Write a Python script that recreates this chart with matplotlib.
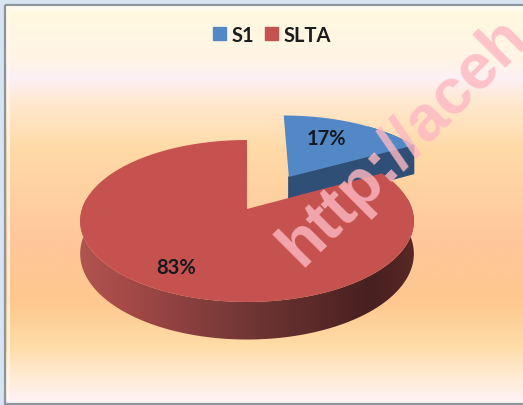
import numpy as np
import matplotlib
matplotlib.use("Agg")
import matplotlib.pyplot as plt
from matplotlib.colors import LinearSegmentedColormap
from matplotlib.patches import Patch, Polygon, Rectangle

# data
kategori = ["S1", "SLTA"]
nilai = [17, 83]
label_persen = ["17%", "83%"]
warna = ["#5288c6", "#c5524f"]

W, H = 523, 406
CX, CY = 247, 210      # pie centre on screen
RX, RY = 165, 79.2     # radii
K = 0.148              # perspective strength
DEPTH = 32             # extrusion
EXPLODE = 0.5          # how far S1 is pulled out


def proyeksi(u, v):
    # plane coords to screen pixels, v points to the viewer
    s = 1 / (1 - K * v)
    return CX + RX * u * s, CY + RY * v * s, s


def irisan(a0, a1, offset=(0, 0), n=200):
    # wedge outline, angles clockwise from the top in degrees
    t = np.radians(np.linspace(a0, a1, n))
    u = np.concatenate(([0], np.sin(t))) + offset[0]
    v = np.concatenate(([0], -np.cos(t))) + offset[1]
    return proyeksi(u, v)


def dinding(a0, a1, offset=(0, 0), n=300):
    # outline of the extruded outer wall
    t = np.radians(np.linspace(a0, a1, n))
    x, y, s = proyeksi(np.sin(t) + offset[0], -np.cos(t) + offset[1])
    xs = np.concatenate((x, x[::-1]))
    ys = np.concatenate((y, (y + DEPTH * s)[::-1]))
    return np.column_stack((xs, ys))


fig = plt.figure(figsize=(W / 100, H / 100), dpi=100, facecolor="#d7e4f2")
ax = fig.add_axes([0, 0, 1, 1])

# background gradient of the chart area
stop_y = [7, 14, 30, 60, 78, 100, 150, 240, 300, 345, 380, 400]
stop_c = ["#fffdf2", "#fff9de", "#fff7e2", "#fff4e6", "#fdf0f5", "#ffe9d2",
          "#ffdaa6", "#ffc79a", "#fec78f", "#ffdca6", "#ffecd8", "#fdf1f1"]
y_norm = (np.array(stop_y) - stop_y[0]) / (stop_y[-1] - stop_y[0])
cmap = LinearSegmentedColormap.from_list("latar", list(zip(y_norm, stop_c)))
ax.imshow(np.linspace(0, 1, 400)[:, None], cmap=cmap, aspect="auto",
          extent=[6, W, 402, 7], zorder=0)

# frame
ax.add_patch(Rectangle((5, 5.5), W, 399, fill=False, ec="#8e949c", lw=1.6, zorder=1))
ax.add_patch(Rectangle((8, 8), W, 394, fill=False, ec="#fff8f4", lw=2.0, alpha=0.8, zorder=1))

# angles come from the values
sudut = 360 * np.array(nilai) / sum(nilai)
a_s1 = sudut[0]
tengah = np.radians(a_s1 / 2)
off = (EXPLODE * np.sin(tengah) * 1.06, -EXPLODE * np.cos(tengah))

# S1 wedge, pulled out to the back right
biru_gelap = "#2f4f76"
ax.add_patch(Polygon(dinding(a_s1 * 0.6, a_s1, offset=off, n=60), color=biru_gelap, lw=0, zorder=3))
x0, y0, s0 = proyeksi(off[0], off[1])
x1, y1, s1 = proyeksi(off[0] + np.sin(np.radians(a_s1)), off[1] - np.cos(np.radians(a_s1)))
ax.fill([x0, x1, x1, x0], [y0, y1, y1 + DEPTH * s1, y0 + DEPTH * s0], color=biru_gelap, zorder=3)
bx, by, _ = irisan(0, a_s1, offset=off)
ax.fill(bx, by, color=warna[0], lw=0, zorder=4)

# SLTA wall: shade goes dark from left to right
gx = np.arange(70, 425)
xs = [80, 125, 250, 370, 413]
warna_dinding = np.column_stack((np.interp(gx, xs, [176, 165, 112, 72, 88]),
                                 np.interp(gx, xs, [84, 74, 54, 32, 40]),
                                 np.interp(gx, xs, [80, 72, 52, 32, 36]))) / 255
gambar = ax.imshow(warna_dinding[None, :, :], aspect="auto", extent=[70, 425, 345, 200], zorder=3)
bentuk = Polygon(dinding(a_s1, 300), transform=ax.transData, fc="none", ec="none")
ax.add_patch(bentuk)
gambar.set_clip_path(bentuk)

mx, my, _ = irisan(a_s1, 360)
ax.fill(mx, my, color=warna[1], lw=0, zorder=5)

ax.set_xlim(0, W)
ax.set_ylim(H, 0)
ax.axis("off")

# percent labels
font_teks = ["Lato", "DejaVu Sans"]
ax.text(326, 139, label_persen[0], ha="center", va="center", fontsize=14.5,
        fontweight="bold", family=font_teks, color="#14181f", zorder=6)
ax.text(176, 268, label_persen[1], ha="center", va="center", fontsize=14.5,
        fontweight="bold", family=font_teks, color="#14181f", zorder=6)

# legend
handles = [Patch(color=warna[0]), Patch(color=warna[1])]
leg = ax.legend(handles, kategori, loc="center", bbox_to_anchor=(272 / W, 1 - 36 / H),
                ncol=2, frameon=False, handlelength=0.62, handleheight=0.62,
                handletextpad=0.28, columnspacing=0.55,
                prop={"family": font_teks, "weight": "bold", "size": 14.5})
for t in leg.get_texts():
    t.set_color("#1c1c1c")

# watermark
ax.text(301, 268, "http://aceh", rotation=45, rotation_mode="anchor", ha="left", va="baseline",
        fontsize=46, fontweight="bold", family="Liberation Sans", color="#fdb8c2",
        alpha=0.82, zorder=7, clip_on=True)

fig.savefig("out.png", dpi=100)
